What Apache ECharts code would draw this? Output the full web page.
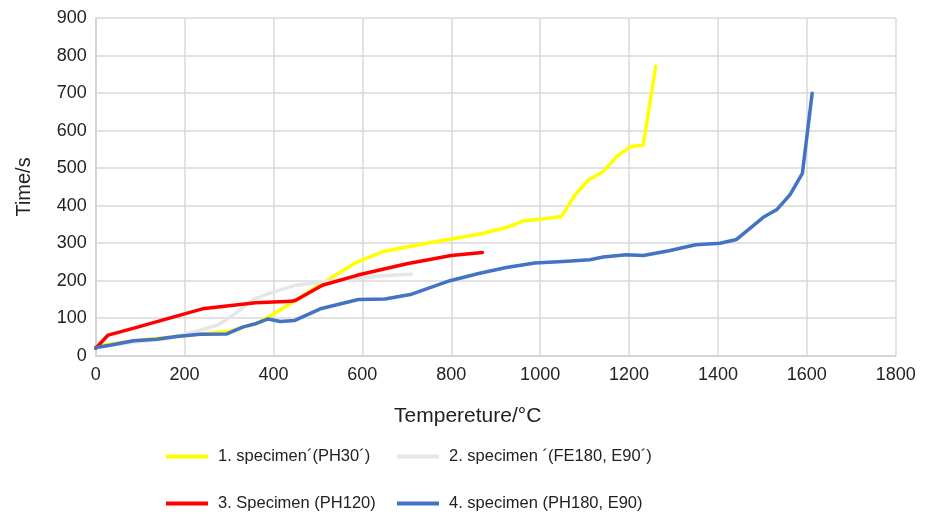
<!DOCTYPE html>
<html>
<head>
<meta charset="utf-8">
<script src="https://cdn.jsdelivr.net/npm/echarts@6/dist/echarts.min.js"></script>
<style>
html,body{margin:0;padding:0;background:#fff;}
#chart{width:934px;height:515px;}
</style>
</head>
<body>
<div id="chart"></div>
<script>
var seriesNames = [
  "1. specimen\u00B4(PH30\u00B4)",
  "2. specimen \u00B4(FE180, E90\u00B4)",
  "3. Specimen (PH120)",
  "4. specimen (PH180, E90)"
];
var xTicks = [0, 200, 400, 600, 800, 1000, 1200, 1400, 1600, 1800];
var yTicks = [0, 100, 200, 300, 400, 500, 600, 700, 800, 900];

var specimen1 = [[0,25],[100,42],[200,53],[240,58],[300,65],[360,86],[390,104],[445,144],[510,193],[585,248],[645,277],[735,298],[810,313],[870,326],[930,344],[960,359],[1000,364],[1048,371],[1078,428],[1108,468],[1142,491],[1172,531],[1202,557],[1232,562],[1260,771]];
var specimen2 = [[0,22],[80,35],[160,45],[225,65],[275,82],[310,109],[355,150],[390,166],[450,188],[510,197],[585,206],[645,213],[710,217]];
var specimen3 = [[0,20],[28,55],[90,75],[150,95],[240,125],[300,133],[360,141],[440,145],[450,148],[510,188],[590,215],[700,245],[800,267],[870,275]];
var specimen4 = [[0,22],[32,28],[85,40],[137,44],[182,51],[235,57],[295,58],[332,77],[362,86],[388,98],[415,91],[448,94],[508,126],[591,150],[651,151],[711,164],[797,200],[864,220],[924,235],[988,247],[1052,251],[1112,256],[1142,263],[1194,269],[1232,267],[1290,280],[1350,296],[1405,300],[1442,310],[1502,369],[1532,389],[1562,429],[1590,486],[1612,700]];

var colors = ["#ffff00", "#e6e6e6", "#ff0000", "#4472c4"];
var dataSets = [specimen1, specimen2, specimen3, specimen4];

var FONT = "Liberation Sans, Arial, Helvetica, sans-serif";
var chart = echarts.init(document.getElementById('chart'), null, {renderer: 'canvas'});

function legendAt(i, left, top) {
  return {
    data: [{name: seriesNames[i], icon: 'rect', itemStyle: {color: colors[i]}}],
    left: left, top: top, orient: 'horizontal', padding: 0,
    itemWidth: 42, itemHeight: 4, itemGap: 0,
    selectedMode: false,
    textStyle: {fontFamily: FONT, fontSize: 16.5, color: '#222', lineHeight: 16, padding: [0,0,0,5]}
  };
}

var option = {
  animation: false,
  backgroundColor: '#ffffff',
  grid: {left: 95.7, right: 38.3, top: 18.2, bottom: 159.3, containLabel: false},
  legend: [
    legendAt(0, 166, 448),
    legendAt(1, 397, 448),
    legendAt(2, 166, 495),
    legendAt(3, 397, 495)
  ],
  xAxis: {
    type: 'value', min: xTicks[0], max: xTicks[xTicks.length-1], interval: 200,
    name: 'Tempereture/\u00B0C', nameLocation: 'middle', nameGap: 50,
    nameTextStyle: {fontFamily: FONT, fontSize: 21, color: '#222', padding: [0, 56, 0, 0]},
    axisLine: {show: true, lineStyle: {color: '#d0d0d0', width: 1.5}},
    axisTick: {show: false},
    axisLabel: {fontFamily: FONT, fontSize: 18, color: '#222', margin: 10,
      formatter: function (v) { return String(v); }},
    splitLine: {show: true, lineStyle: {color: '#d9d9d9', width: 1.5}}
  },
  yAxis: {
    type: 'value', min: yTicks[0], max: yTicks[yTicks.length-1], interval: 100,
    name: 'Time/s', nameLocation: 'middle', nameGap: 61, nameRotate: 90,
    nameTextStyle: {fontFamily: FONT, fontSize: 20, color: '#222'},
    axisLine: {show: true, lineStyle: {color: '#d0d0d0', width: 1.5}},
    axisTick: {show: false},
    axisLabel: {fontFamily: FONT, fontSize: 18, color: '#222', margin: 9,
      formatter: function (v) { return String(v); }},
    splitLine: {show: true, lineStyle: {color: '#d9d9d9', width: 1.5}}
  },
  series: dataSets.map(function (d, i) {
    return {
      name: seriesNames[i], type: 'line', data: d,
      symbol: 'none', showSymbol: false, smooth: false,
      color: colors[i],
      lineStyle: {color: colors[i], width: 3.5, cap: 'round', join: 'round'},
      z: 2 + i
    };
  })
};
chart.setOption(option);
</script>
</body>
</html>
